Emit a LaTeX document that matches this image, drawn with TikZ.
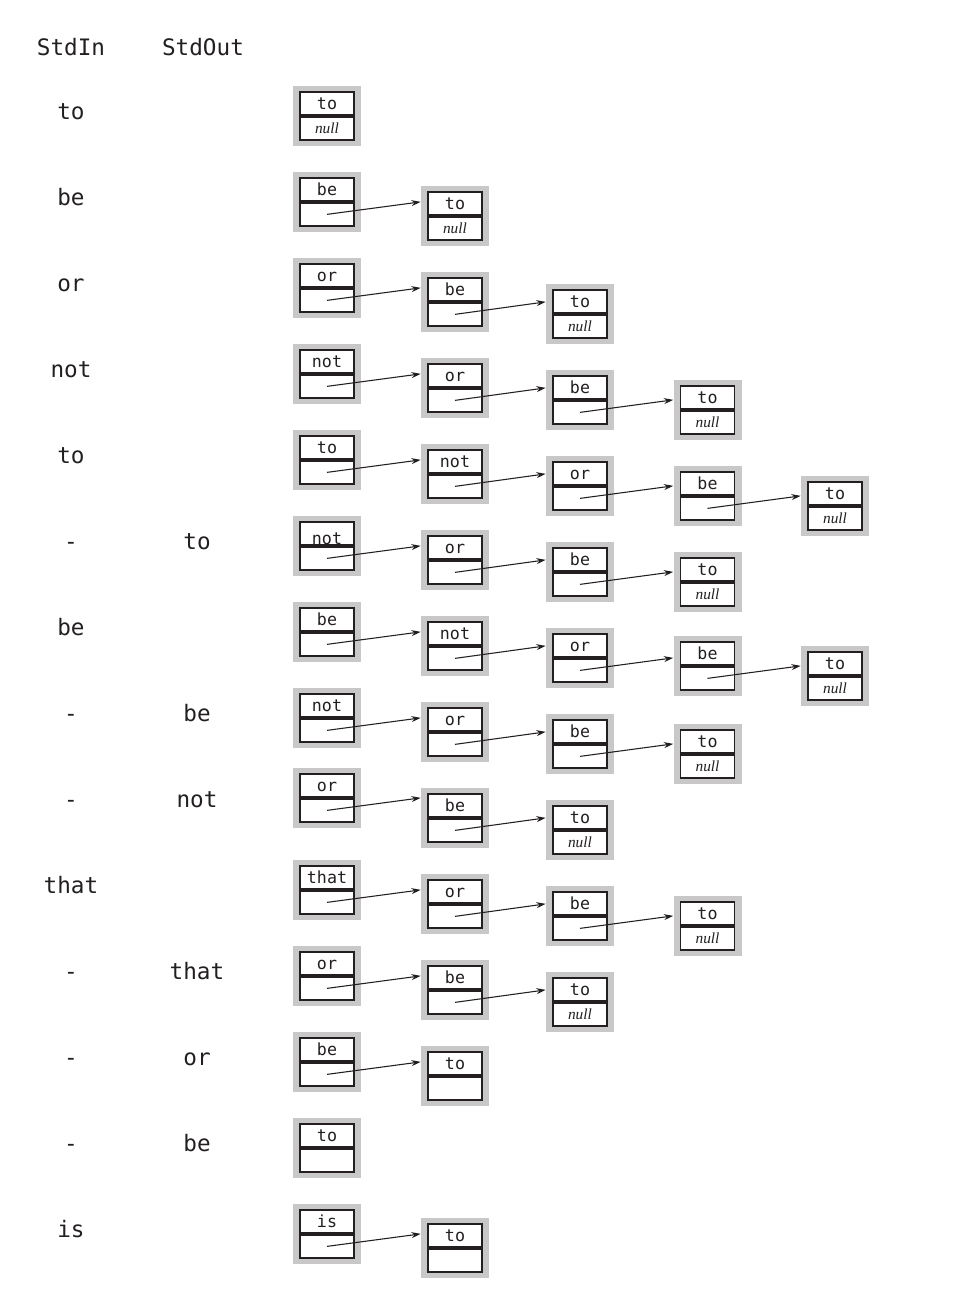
\documentclass[tikz,border=0pt]{standalone}
\usepackage{fontspec}
\setmonofont{DejaVu Sans Mono}
\newfontfamily\linkfont{Liberation Serif}
\usetikzlibrary{arrows.meta,calc,positioning}
\definecolor{framegray}{HTML}{C8C8C8}
\definecolor{ink}{HTML}{231F20}
\tikzset{
  grayframe/.style={
    fill=framegray,
    minimum width=51pt,
    minimum height=45pt,
    inner sep=0pt
  },
  keycell/.style={
    draw=ink,
    line width=1.3pt,
    fill=white,
    minimum width=40.5pt,
    minimum height=17.25pt,
    inner sep=0pt,
    text height=9.2pt,
    text depth=0pt,
    text=ink,
    font=\fontsize{12.5}{14}\selectfont\ttfamily
  },
  linkcell/.style={
    keycell,
    text height=7.5pt,
    font=\fontsize{11.5}{13}\selectfont\linkfont\itshape
  },
  iolabel/.style={anchor=base, text=ink, font=\fontsize{17}{20}\selectfont\ttfamily},
  ptr/.style={draw=ink, line width=0.8pt, -{Stealth[length=7pt,width=4.5pt]}}
}
\newcommand{\lnode}[5]{%
  \node[grayframe] (#1) at (#2,#3) {};
  \node[keycell, anchor=south] (#1-key) at (#1.center) {#4};
  \node[linkcell, anchor=north] (#1-link) at (#1.center) {#5};
}
\newcommand{\lptr}[2]{%
  \draw[ptr] (#1-link.center) -- ($(#1-link.center -| #2.west)+(0,-12.5)$);
}
\newcommand{\nul}{null}

\begin{document}
\begin{tikzpicture}[x=0.75pt,y=-0.75pt]
\useasboundingbox (0,0) rectangle (972,1313);

% column heads
\node[iolabel] (inhead) at (71,56) {StdIn};
\node[iolabel] (outhead) at (203,56) {StdOut};

% input and output
\node[iolabel] (in1) at (71,119) {to};
\node[iolabel] (in2) at (71,205) {be};
\node[iolabel] (in3) at (71,291) {or};
\node[iolabel] (in4) at (71,377) {not};
\node[iolabel] (in5) at (71,463) {to};
\node[iolabel] (in6) at (71,549) {-};
\node[iolabel] (in7) at (71,635) {be};
\node[iolabel] (in8) at (71,721) {-};
\node[iolabel] (in9) at (71,807) {-};
\node[iolabel] (in10) at (71,893) {that};
\node[iolabel] (in11) at (71,979) {-};
\node[iolabel] (in12) at (71,1065) {-};
\node[iolabel] (in13) at (71,1151) {-};
\node[iolabel] (in14) at (71,1237) {is};
\node[iolabel] (out6) at (197,549) {to};
\node[iolabel] (out8) at (197,721) {be};
\node[iolabel] (out9) at (197,807) {not};
\node[iolabel] (out11) at (197,979) {that};
\node[iolabel] (out12) at (197,1065) {or};
\node[iolabel] (out13) at (197,1151) {be};

% stack contents, one row per operation
\lnode{r1a}{327}{116}{to}{\nul}

\lnode{r2a}{327}{202}{be}{}
\lnode{r2b}{455}{216}{to}{\nul}

\lnode{r3a}{327}{288}{or}{}
\lnode{r3b}{455}{302}{be}{}
\lnode{r3c}{580}{314}{to}{\nul}

\lnode{r4a}{327}{374}{not}{}
\lnode{r4b}{455}{388}{or}{}
\lnode{r4c}{580}{400}{be}{}
\lnode{r4d}{707.5}{410}{to}{\nul}

\lnode{r5a}{327}{460}{to}{}
\lnode{r5b}{455}{474}{not}{}
\lnode{r5c}{580}{486}{or}{}
\lnode{r5d}{707.5}{496}{be}{}
\lnode{r5e}{835}{506}{to}{\nul}

\lnode{r6a}{327}{546}{\raisebox{-3.5pt}{not}}{}
\lnode{r6b}{455}{560}{or}{}
\lnode{r6c}{580}{572}{be}{}
\lnode{r6d}{707.5}{582}{to}{\nul}

\lnode{r7a}{327}{632}{be}{}
\lnode{r7b}{455}{646}{not}{}
\lnode{r7c}{580}{658}{or}{}
\lnode{r7d}{707.5}{666}{be}{}
\lnode{r7e}{835}{676}{to}{\nul}

\lnode{r8a}{327}{718}{not}{}
\lnode{r8b}{455}{732}{or}{}
\lnode{r8c}{580}{744}{be}{}
\lnode{r8d}{707.5}{754}{to}{\nul}

\lnode{r9a}{327}{798}{or}{}
\lnode{r9b}{455}{818}{be}{}
\lnode{r9c}{580}{830}{to}{\nul}

\lnode{r10a}{327}{890}{that}{}
\lnode{r10b}{455}{904}{or}{}
\lnode{r10c}{580}{916}{be}{}
\lnode{r10d}{707.5}{926}{to}{\nul}

\lnode{r11a}{327}{976}{or}{}
\lnode{r11b}{455}{990}{be}{}
\lnode{r11c}{580}{1002}{to}{\nul}

\lnode{r12a}{327}{1062}{be}{}
\lnode{r12b}{455}{1076}{to}{}

\lnode{r13a}{327}{1148}{to}{}

\lnode{r14a}{327}{1234}{is}{}
\lnode{r14b}{455}{1248}{to}{}

% links
\lptr{r2a}{r2b}
\lptr{r3a}{r3b} \lptr{r3b}{r3c}
\lptr{r4a}{r4b} \lptr{r4b}{r4c} \lptr{r4c}{r4d}
\lptr{r5a}{r5b} \lptr{r5b}{r5c} \lptr{r5c}{r5d} \lptr{r5d}{r5e}
\lptr{r6a}{r6b} \lptr{r6b}{r6c} \lptr{r6c}{r6d}
\lptr{r7a}{r7b} \lptr{r7b}{r7c} \lptr{r7c}{r7d} \lptr{r7d}{r7e}
\lptr{r8a}{r8b} \lptr{r8b}{r8c} \lptr{r8c}{r8d}
\lptr{r9a}{r9b} \lptr{r9b}{r9c}
\lptr{r10a}{r10b} \lptr{r10b}{r10c} \lptr{r10c}{r10d}
\lptr{r11a}{r11b} \lptr{r11b}{r11c}
\lptr{r12a}{r12b}
\lptr{r14a}{r14b}

\end{tikzpicture}
\end{document}
